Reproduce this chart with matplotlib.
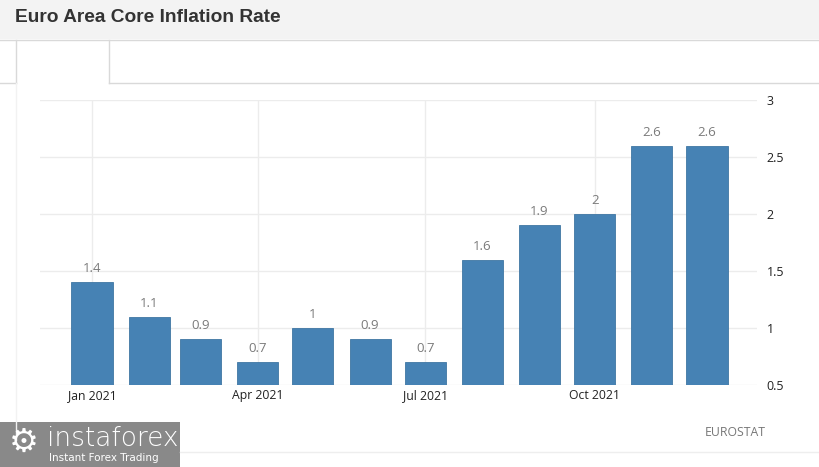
import matplotlib.pyplot as plt
import matplotlib.dates as mdates
from matplotlib.lines import Line2D
from matplotlib.patches import Rectangle
import numpy as np
import datetime as dt

# data
months = [dt.date(2021, m, 1) for m in range(1, 13)]
values = [1.4, 1.1, 0.9, 0.7, 1.0, 0.9, 0.7, 1.6, 1.9, 2.0, 2.6, 2.6]
value_labels = ["1.4", "1.1", "0.9", "0.7", "1", "0.9", "0.7", "1.6", "1.9", "2", "2.6", "2.6"]
tick_months = [dt.date(2021, 1, 1), dt.date(2021, 4, 1), dt.date(2021, 7, 1), dt.date(2021, 10, 1)]
tick_labels = ["Jan 2021", "Apr 2021", "Jul 2021", "Oct 2021"]
y_ticks = [0.5, 1, 1.5, 2, 2.5, 3]
y_tick_labels = ["0.5", "1", "1.5", "2", "2.5", "3"]

W, H = 820, 467
fig = plt.figure(figsize=(W / 100, H / 100), dpi=100)
fig.patch.set_facecolor("white")

def fx(px):
    return px / W

def fy(py):
    return 1 - py / H

# header bar and tab frame
fig.add_artist(Rectangle((0, fy(39)), 1, 39 / H, transform=fig.transFigure,
                         facecolor="#f3f3f3", edgecolor="none", zorder=0))
line_kw = dict(transform=fig.transFigure, color="#d9d9d9", lw=1)
fig.add_artist(Line2D([0, 1], [fy(39.5), fy(39.5)], **line_kw))
fig.add_artist(Line2D([0, fx(16)], [fy(83), fy(83)], **line_kw))
fig.add_artist(Line2D([fx(109), 1], [fy(83), fy(83)], **line_kw))
fig.add_artist(Line2D([fx(16), fx(16)], [fy(40), fy(83)], **line_kw))
fig.add_artist(Line2D([fx(109), fx(109)], [fy(40), fy(83)], **line_kw))
fig.add_artist(Line2D([fx(16), fx(16)], [fy(83), fy(440)], transform=fig.transFigure,
                      color="#f2f2f2", lw=1))
fig.add_artist(Line2D([fx(180), 1], [fy(452), fy(452)], transform=fig.transFigure,
                      color="#eeeeee", lw=1))

fig.text(fx(15), fy(18), "Euro Area Core Inflation Rate", fontsize=13.8, fontweight="bold",
         family="Liberation Sans", color="#333333", va="center", ha="left")

# main chart
ax = fig.add_axes([fx(40), fy(385), fx(757 - 40), (385 - 100) / H])
x = mdates.date2num(months)
ax.bar(x, values, width=22.3, color="#4682b4", edgecolor="#3f76a3", linewidth=0.6, zorder=3)

for xi, v, lab in zip(x, values, value_labels):
    ax.annotate(lab, (xi, v), xytext=(0, 5), textcoords="offset points", ha="center",
                va="bottom", fontsize=9.5, color="#7a7a7a", family="Open Sans")

px_per_day = 615 / 334
ax.set_xlim(x[0] - 52 / px_per_day, x[-1] + 50 / px_per_day)
ax.set_ylim(0.5, 3)

ax.set_xticks(mdates.date2num(tick_months))
ax.set_xticklabels(tick_labels, fontsize=8.8, color="#222222", family="Open Sans")
ax.set_yticks(y_ticks)
ax.set_yticklabels(y_tick_labels, fontsize=9, color="#222222", family="Open Sans")
ax.yaxis.tick_right()
ax.tick_params(axis="both", length=0)
ax.tick_params(axis="y", pad=7)
ax.tick_params(axis="x", pad=3)

ax.grid(True, color="#ececec", lw=1, zorder=0)
for s in ax.spines.values():
    s.set_visible(False)

# source and watermark
fig.text(fx(705), fy(432), "EUROSTAT", fontsize=8.8, color="#777777",
         family="Open Sans", va="center", ha="left")
fig.add_artist(Rectangle((0, 0), fx(180), (467 - 422) / H, transform=fig.transFigure,
                         facecolor="#898989", edgecolor="none"))
fig.text(fx(24), fy(442), "\u2699", fontsize=24, color="white", va="center", ha="center",
         family="DejaVu Sans")
fig.text(fx(47), fy(438), "instaforex", fontsize=19, color="white", va="center", ha="left",
         family="DejaVu Sans", fontweight="light")
fig.text(fx(49), fy(458), "Instant Forex Trading", fontsize=7.5, color="white",
         va="center", ha="left", family="DejaVu Sans")

fig.savefig("out.png", dpi=100)
